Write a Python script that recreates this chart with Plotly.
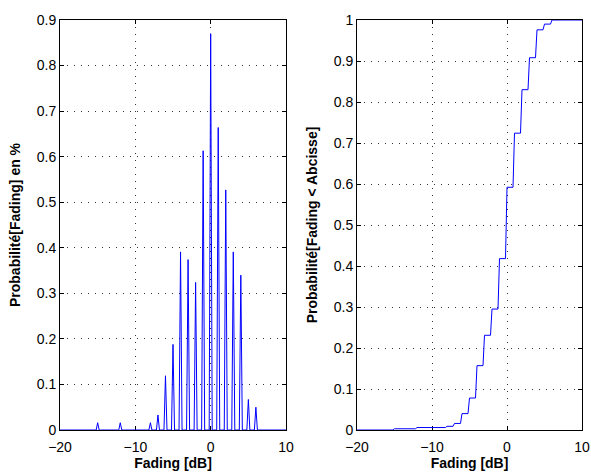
import numpy as np
import plotly.graph_objects as go

# Data
fading_db = [-15, -12, -8, -7, -6, -5, -4, -3, -2, -1, 0, 1, 2, 3, 4, 5, 6]
prob_pct = [0.016, 0.016, 0.016, 0.033, 0.119, 0.188, 0.391, 0.374, 0.324,
            0.613, 0.870, 0.664, 0.527, 0.391, 0.340, 0.067, 0.050]
cdf_vals = [0.003, 0.006, 0.009, 0.016, 0.040, 0.078, 0.157, 0.231, 0.295,
            0.418, 0.592, 0.724, 0.830, 0.908, 0.976, 0.990, 1.000]

x_ticks = [-20, -10, 0, 10]
y1_ticks = [0, 0.1, 0.2, 0.3, 0.4, 0.5, 0.6, 0.7, 0.8, 0.9]
y2_ticks = [0, 0.1, 0.2, 0.3, 0.4, 0.5, 0.6, 0.7, 0.8, 0.9, 1]

# histogram grid (0.2 dB bins)
step = 0.2
grid = np.round(np.arange(-20, 10 + step / 2, step), 6)
pdf = np.zeros_like(grid)
cdf = np.zeros_like(grid)
for f, p, c in zip(fading_db, prob_pct, cdf_vals):
    idx = int(round((f + 20) / step))
    pdf[idx] = p
    cdf[idx:] = c

blue = "#0000FF"
fig = go.Figure()
fig.add_trace(go.Scatter(x=grid, y=pdf, mode="lines", line=dict(color=blue, width=1),
                         xaxis="x", yaxis="y", showlegend=False, cliponaxis=False))
fig.add_trace(go.Scatter(x=grid, y=cdf, mode="lines", line=dict(color=blue, width=1),
                         xaxis="x2", yaxis="y2", showlegend=False, cliponaxis=False))

font = dict(family="Liberation Sans, Arial, sans-serif", size=14, color="black")
title_font = dict(family="Liberation Sans, Arial, sans-serif", size=14, color="black")

common = dict(showline=True, linecolor="black", linewidth=1, mirror="ticks",
              ticks="inside", ticklen=4, tickcolor="black",
              showgrid=True, gridcolor="#333333", griddash="1px,6px", gridwidth=1,
              zeroline=False, tickfont=font, automargin=False, layer="below traces")

fig.update_layout(
    width=591, height=472,
    margin=dict(l=60, r=9, t=20, b=42),
    paper_bgcolor="white", plot_bgcolor="white",
    xaxis=dict(domain=[0, 0.433], range=[-20, 10], tickvals=x_ticks, ticklabelstandoff=4,
               title=dict(text="<b>Fading [dB]</b>", font=title_font, standoff=0),
               anchor="y", **common),
    yaxis=dict(domain=[0, 1], range=[0, 0.9], tickvals=y1_ticks,
               ticktext=[("%g" % v) for v in y1_ticks],
               title=dict(text="<b>Probabilité[Fading] en %</b>", font=title_font, standoff=12),
               anchor="x", **common),
    xaxis2=dict(domain=[0.569, 1], range=[-20, 10], tickvals=x_ticks, ticklabelstandoff=4,
                title=dict(text="<b>Fading [dB]</b>", font=title_font, standoff=0),
                anchor="y2", **common),
    yaxis2=dict(domain=[0, 1], range=[0, 1], tickvals=y2_ticks,
                ticktext=[("%g" % v) for v in y2_ticks],
                title=dict(text="<b>Probabilité[Fading < Abcisse]</b>", font=title_font, standoff=12),
                anchor="x2", **common),
)

fig.write_html(
    "out.html",
    config={"displayModeBar": False},
    post_script="document.body.style.margin='0';document.body.style.overflow='hidden';",
)
